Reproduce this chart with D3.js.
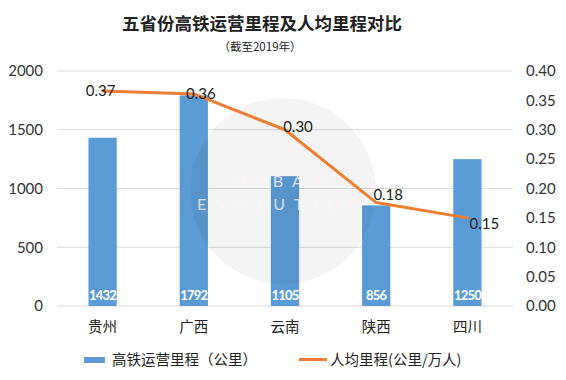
<!DOCTYPE html>
<html><head><meta charset="utf-8">
<script src="https://cdn.jsdelivr.net/npm/d3@7"></script>
<style>
body{margin:0;background:#fff;}
svg{display:block;font-family:"Lato","Noto Sans CJK SC",sans-serif;}
</style></head>
<body>
<svg id="c" width="566" height="380"></svg>
<script>
const categories = ["贵州","广西","云南","陕西","四川"];
const mileage = [1432, 1792, 1105, 856, 1250];
const perCapita = [0.366, 0.361, 0.30, 0.176, 0.15];
const leftTicks = [0, 500, 1000, 1500, 2000];
const rightTicks = [0, 0.05, 0.10, 0.15, 0.20, 0.25, 0.30, 0.35, 0.40];
const lineLabelDx = [-2, 7, 13, 12, 17];
const lineLabelDy = [0, 0, -3, -8, 6];

const svg = d3.select("#c");
const m = {l:57, r:513, t:71, b:306};
const x = d3.scaleBand().domain(categories).range([m.l, m.r]).padding(0);
const yL = d3.scaleLinear().domain([0, 2000]).range([m.b, m.t]);
const yR = d3.scaleLinear().domain([0, 0.40]).range([m.b, m.t]);
const barW = x.bandwidth() * 0.31;
const cx = c => x(c) + x.bandwidth()/2;

// title
svg.append("text").attr("x", 262).attr("y", 30).attr("text-anchor","middle")
  .attr("font-size", 17.5).attr("font-weight","bold").attr("fill","#222")
  .attr("font-family","'Noto Sans CJK SC'").text("五省份高铁运营里程及人均里程对比");
svg.append("text").attr("x", 260).attr("y", 51).attr("text-anchor","middle")
  .attr("font-size", 11.5).attr("fill","#222")
  .attr("font-family","'Noto Sans CJK SC'").text("（截至2019年）");

// gridlines
svg.append("g").selectAll("line").data(leftTicks).join("line")
  .attr("x1", m.l).attr("x2", m.r).attr("y1", d=>yL(d)).attr("y2", d=>yL(d))
  .attr("stroke","#d9d9d9").attr("stroke-width",1);

// left axis
const gL = svg.append("g").attr("transform",`translate(${m.l},0)`)
  .call(d3.axisLeft(yL).tickValues(leftTicks).tickSize(0).tickPadding(14).tickFormat(d3.format("d")));
gL.select(".domain").remove();
gL.selectAll("text").attr("font-size",15).attr("fill","#333").attr("font-family","Lato");

// right axis
const gR = svg.append("g").attr("transform",`translate(${m.r},0)`)
  .call(d3.axisRight(yR).tickValues(rightTicks).tickSize(0).tickPadding(13).tickFormat(d3.format(".2f")));
gR.select(".domain").remove();
gR.selectAll("text").attr("font-size",15).attr("fill","#333").attr("font-family","Lato");

// bottom axis
const gB = svg.append("g").attr("transform",`translate(0,${m.b})`)
  .call(d3.axisBottom(x).tickSize(0).tickPadding(16));
gB.select(".domain").remove();
gB.selectAll("text").attr("font-size",14.5).attr("fill","#222").attr("font-family","'Noto Sans CJK SC'");

// bars
svg.append("g").selectAll("rect").data(categories).join("rect")
  .attr("x", c => cx(c) - barW/2).attr("width", barW)
  .attr("y", (c,i) => yL(mileage[i])).attr("height", (c,i) => yL(0) - yL(mileage[i]))
  .attr("fill","#5b9bd5");

svg.append("g").selectAll("text").data(categories).join("text")
  .attr("x", c => cx(c)).attr("y", m.b - 6).attr("text-anchor","middle")
  .attr("font-size",13).attr("font-weight","bold").attr("fill","#fff")
  .attr("letter-spacing","-0.8").attr("font-family","Lato")
  .text((c,i) => mileage[i]);

// watermark
const wm = svg.append("g");
wm.append("circle").attr("cx",283).attr("cy",191).attr("r",93).attr("fill","#000").attr("opacity",0.045);
wm.append("text").attr("x",283).attr("y",187).attr("text-anchor","middle").attr("font-size",16)
  .attr("letter-spacing",9).attr("fill","#fff4f5").attr("opacity",0.75).attr("font-family","Lato").text("URBAN");
wm.append("text").attr("x",283).attr("y",210).attr("text-anchor","middle").attr("font-size",16)
  .attr("letter-spacing",9).attr("fill","#fff4f5").attr("opacity",0.75).attr("font-family","Lato").text("EVOLUTION");

// line
const line = d3.line().x(d => cx(d.c)).y(d => yR(d.v));
const pts = categories.map((c,i)=>({c, v: perCapita[i]}));
svg.append("path").datum(pts).attr("d", line).attr("fill","none")
  .attr("stroke","#ed7d31").attr("stroke-width",3).attr("stroke-linejoin","round").attr("stroke-linecap","round");

svg.append("g").selectAll("text").data(pts).join("text")
  .attr("x", (d,i) => cx(d.c) + lineLabelDx[i]).attr("y", (d,i) => yR(d.v) + lineLabelDy[i] + 5)
  .attr("text-anchor","middle").attr("font-size",15).attr("fill","#222").attr("font-family","Lato")
  .text(d => d3.format(".2f")(d.v));

// legend
const lg = svg.append("g");
lg.append("rect").attr("x",84).attr("y",357).attr("width",21).attr("height",6).attr("fill","#5b9bd5");
lg.append("text").attr("x",112).attr("y",365).attr("font-size",14.5).attr("fill","#222")
  .attr("font-family","'Noto Sans CJK SC'").text("高铁运营里程（公里）");
lg.append("line").attr("x1",299).attr("x2",327).attr("y1",359.5).attr("y2",359.5)
  .attr("stroke","#ed7d31").attr("stroke-width",3);
lg.append("text").attr("x",330).attr("y",365).attr("font-size",14.5).attr("fill","#222")
  .attr("font-family","'Noto Sans CJK SC'").text("人均里程(公里/万人)");
</script>
</body></html>
